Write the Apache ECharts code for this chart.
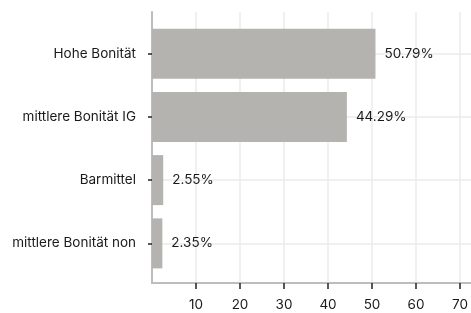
<!DOCTYPE html>
<html>
<head>
<meta charset="utf-8">
<script src="https://cdn.jsdelivr.net/npm/echarts@6/dist/echarts.min.js"></script>
<style>
  html, body { margin: 0; padding: 0; background: #fff; }
  #chart { width: 471px; height: 313px; }
</style>
</head>
<body>
<div id="chart"></div>
<script>
// Kategorien und Anteile (in %)
const categories = ['Hohe Bonität', 'mittlere Bonität IG', 'Barmittel', 'mittlere Bonität non'];
const shares = [50.79, 44.29, 2.55, 2.35];
const xTicks = [10, 20, 30, 40, 50, 60, 70];

const FONT = 'Inter';
const FONT_SIZE = 13.5;
const X_MAX = 72.5;

// Plotbereich
const LEFT = 152, WIDTH = 319;
const pxPerUnit = WIDTH / X_MAX;
const tickMin = xTicks[0], tickMax = xTicks[xTicks.length - 1];

const chart = echarts.init(document.getElementById('chart'));

const option = {
  animation: false,
  textStyle: { fontFamily: FONT },
  grid: [
    // Rahmen: Achsenlinien + vertikale Gitterlinien
    { left: LEFT, right: 471 - LEFT - WIDTH, top: 12, bottom: 30, outerBoundsMode: 'none' },
    // Balken
    { left: LEFT, right: 471 - LEFT - WIDTH, top: 22, bottom: 38, outerBoundsMode: 'none' },
    // Striche + Beschriftung der x-Achse (nur 10 bis 70)
    {
      left: LEFT + tickMin * pxPerUnit,
      right: 471 - LEFT - tickMax * pxPerUnit,
      top: 12, bottom: 30, outerBoundsMode: 'none'
    }
  ],
  xAxis: [
    {
      gridIndex: 0, type: 'value', position: 'bottom', min: 0, max: X_MAX, interval: 10,
      axisLine: { show: true, lineStyle: { color: '#bdbdbd', width: 2 } },
      axisTick: { show: false },
      axisLabel: { show: false },
      splitLine: { show: true, showMinLine: false, showMaxLine: false, lineStyle: { color: '#ebebeb', width: 1.5 } }
    },
    {
      gridIndex: 1, type: 'value', min: 0, max: X_MAX, show: false
    },
    {
      gridIndex: 2, type: 'value', position: 'bottom', min: tickMin, max: tickMax, interval: 10, offset: 1,
      axisLine: { show: false },
      axisTick: { show: true, length: 6, lineStyle: { color: '#222', width: 1.5 } },
      axisLabel: { show: true, margin: 14, color: '#1a1a1a', fontSize: FONT_SIZE, fontFamily: FONT },
      splitLine: { show: false }
    }
  ],
  yAxis: [
    {
      gridIndex: 0, type: 'value', min: 0, max: 1,
      axisLine: { show: true, lineStyle: { color: '#bdbdbd', width: 2 } },
      axisTick: { show: false },
      axisLabel: { show: false },
      splitLine: { show: false }
    },
    {
      gridIndex: 1, type: 'category', data: categories, inverse: true, offset: 2,
      axisLine: { show: false },
      axisTick: { show: true, alignWithLabel: true, length: 4, lineStyle: { color: '#222', width: 1.5 } },
      axisLabel: { margin: 14, color: '#1a1a1a', fontSize: FONT_SIZE, fontFamily: FONT },
      splitLine: { show: false }
    },
    {
      gridIndex: 2, type: 'value', min: 0, max: 1, show: false
    }
  ],
  series: [
    {
      type: 'bar',
      xAxisIndex: 1,
      yAxisIndex: 1,
      data: shares,
      barWidth: 50,
      z: 3,
      itemStyle: { color: '#b4b3af' },
      label: {
        show: true, position: 'right', distance: 9,
        color: '#1a1a1a', fontSize: FONT_SIZE, fontFamily: FONT,
        formatter: p => p.value.toFixed(2) + '%'
      },
      markLine: {
        silent: true, symbol: 'none', z: 1,
        label: { show: false },
        lineStyle: { color: '#ebebeb', width: 1.5, type: 'solid' },
        data: categories.map(c => ({ yAxis: c }))
      }
    }
  ]
};

chart.setOption(option);
</script>
</body>
</html>
